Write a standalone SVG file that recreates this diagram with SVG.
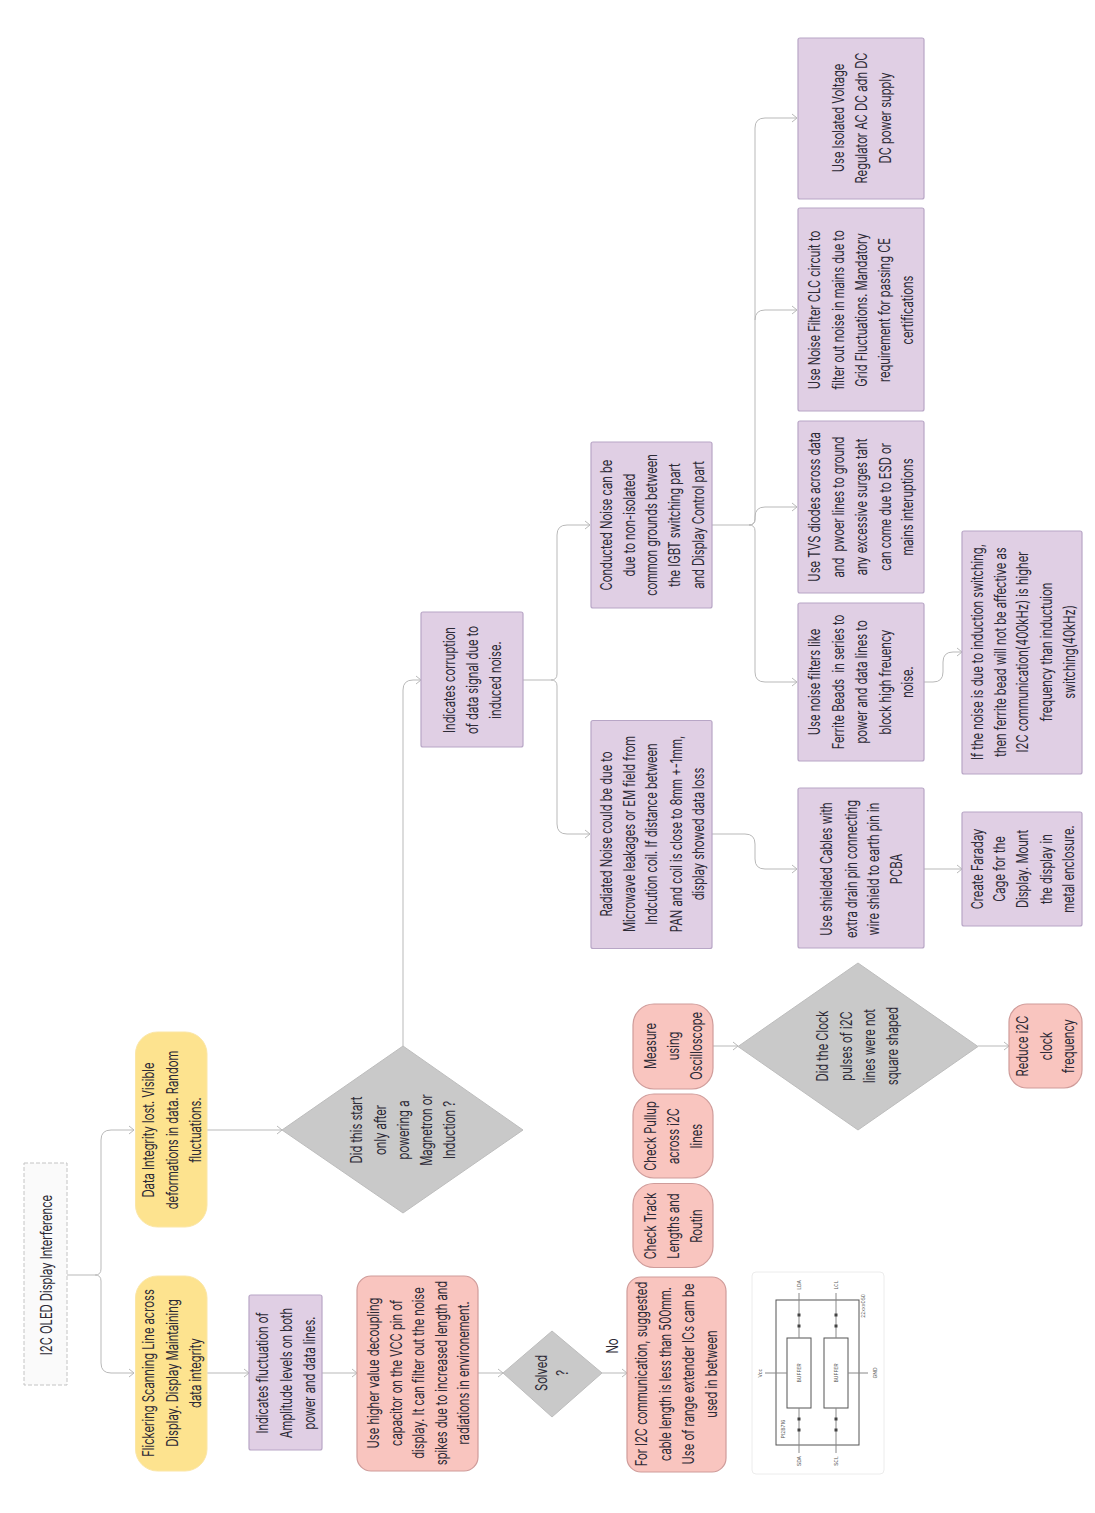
<svg xmlns="http://www.w3.org/2000/svg" width="1095" height="1513" viewBox="0 0 1095 1513">
<style>
text{font-family:"Inter","Liberation Sans",sans-serif;font-size:16px;fill:#2d2a36;text-anchor:middle;white-space:pre}
.s{font-size:5px;fill:#555}
.y{fill:#fde38f;stroke:#fbe6a6;stroke-width:1}
.p{fill:#e0cfe4;stroke:#b8a6c6;stroke-width:1.2}
.r{fill:#f9c5bf;stroke:#cf9c9a;stroke-width:1.2}
.g{fill:#c9c9c9;stroke:#bdbdbd;stroke-width:1}
.c path{fill:none;stroke:#b9b9b9;stroke-width:1}
.m{fill:none;stroke:#b9b9b9;stroke-width:1}
.i{fill:none;stroke:#555;stroke-width:1}
.l{fill:none;stroke:#888;stroke-width:1}
</style>
<defs>
<marker id="a" markerUnits="userSpaceOnUse" markerWidth="8" markerHeight="10" refX="7" refY="5" orient="auto"><path class="m" d="M2,1 L7,5 L2,9"/></marker>
</defs>
<rect width="1095" height="1513" fill="#fff"/>
<g class="c" id="connectors">
<path d="M67,1275H95Q101,1275 101,1269V1140Q101,1130 111,1130H134" marker-end="url(#a)"/>
<path d="M95,1275Q101,1275 101,1281V1363Q101,1373 111,1373H134" marker-end="url(#a)"/>
<path d="M207,1130H282" marker-end="url(#a)"/>
<path d="M207,1373H249" marker-end="url(#a)"/>
<path d="M322,1373H357" marker-end="url(#a)"/>
<path d="M478,1373H503" marker-end="url(#a)"/>
<path d="M602,1373H627" marker-end="url(#a)"/>
<path d="M403,1046V690Q403,680 413,680H421" marker-end="url(#a)"/>
<path d="M523,680H551Q557,680 557,674V535Q557,525 567,525H590" marker-end="url(#a)"/>
<path d="M551,680Q557,680 557,686V824Q557,834 567,834H590" marker-end="url(#a)"/>
<path d="M712,525H749Q755,525 755,519V128Q755,118 765,118H797" marker-end="url(#a)"/>
<path d="M755,320Q755,310 765,310H797" marker-end="url(#a)"/>
<path d="M749,525Q755,525 755,519V517Q755,507 765,507H797" marker-end="url(#a)"/>
<path d="M749,525Q755,525 755,531V672Q755,682 765,682H797" marker-end="url(#a)"/>
<path d="M712,834H745Q755,834 755,844V859Q755,869 765,869H797" marker-end="url(#a)"/>
<path d="M924,682H933Q943,682 943,672V662Q943,652 953,652H962" marker-end="url(#a)"/>
<path d="M924,869H962" marker-end="url(#a)"/>
<path d="M713,1046H738" marker-end="url(#a)"/>
<path d="M978,1046H1009" marker-end="url(#a)"/>
</g>
<g id="title"><rect x="24" y="1163" width="43" height="222" fill="#fafafa" stroke="#c4c4c4" stroke-width="1" stroke-dasharray="4 2"/>
<text transform="translate(0 1275) rotate(-90) scale(.7 1)"><tspan x="0" y="52">I2C OLED Display Interference</tspan></text></g>
<g id="n-data"><rect class="y" x="135.500" y="1032" width="71.500" height="195" rx="22"/>
<text transform="translate(0 1130) rotate(-90) scale(.7 1)"><tspan x="0" y="154">Data Integrity lost. Visible</tspan><tspan x="0" y="178">deformations in data. Random</tspan><tspan x="0" y="201">fluctuations.</tspan></text></g>
<g id="n-flicker"><rect class="y" x="135.500" y="1276" width="71.500" height="195" rx="22"/>
<text transform="translate(0 1373) rotate(-90) scale(.7 1)"><tspan x="0" y="154">Flickering Scanning Line across</tspan><tspan x="0" y="178">Display. Display Maintaining</tspan><tspan x="0" y="201">data integrity</tspan></text></g>
<g id="n-amp"><rect class="p" x="249" y="1295" width="73" height="155" rx="2"/>
<text transform="translate(0 1373) rotate(-90) scale(.7 1)"><tspan x="0" y="268">Indicates fluctuation of</tspan><tspan x="0" y="292">Amplitude levels on both</tspan><tspan x="0" y="315">power and data lines.</tspan></text></g>
<g id="n-cap"><rect class="r" x="357" y="1276" width="121" height="195" rx="14"/>
<text transform="translate(0 1373) rotate(-90) scale(.7 1)"><tspan x="0" y="379">Use higher value decoupling</tspan><tspan x="0" y="402">capacitor on the VCC pin of</tspan><tspan x="0" y="424">display. It can filter out the noise</tspan><tspan x="0" y="447">spikes due to increased length and</tspan><tspan x="0" y="469">radiations in environement.</tspan></text></g>
<g id="n-did"><path class="g" d="M282,1130L403,1046L523,1130L403,1213Z"/>
<text transform="translate(0 1130) rotate(-90) scale(.7 1)"><tspan x="0" y="362">Did this start</tspan><tspan x="0" y="386">only after</tspan><tspan x="0" y="409">powering a</tspan><tspan x="0" y="432">Magnetron or</tspan><tspan x="0" y="455">Induction ?</tspan></text></g>
<g id="n-solved"><path class="g" d="M503,1373L552,1331L602,1373L552,1417Z"/>
<text transform="translate(0 1373) rotate(-90) scale(.7 1)"><tspan x="0" y="547">Solved</tspan><tspan x="0" y="568">?</tspan></text></g>
<text id="l-no" transform="translate(0 1346) rotate(-90) scale(.7 1)"><tspan x="0" y="618">No</tspan></text>
<g id="n-i2c"><rect class="r" x="627" y="1277" width="99" height="195" rx="14"/>
<text transform="translate(0 1374) rotate(-90) scale(.7 1)"><tspan x="0" y="647">For I2C communication, suggested</tspan><tspan x="0" y="671">cable length is less than 500mm.</tspan><tspan x="0" y="694">Use of range extender ICs cam be</tspan><tspan x="0" y="717">used in between</tspan></text></g>
<g id="n-track"><rect class="r" x="633" y="1183.500" width="80" height="84" rx="21"/>
<text transform="translate(0 1226) rotate(-90) scale(.7 1)"><tspan x="0" y="656">Check Track</tspan><tspan x="0" y="679">Lengths and</tspan><tspan x="0" y="702">Routin</tspan></text></g>
<g id="n-pullup"><rect class="r" x="633" y="1094" width="80" height="84" rx="21"/>
<text transform="translate(0 1136) rotate(-90) scale(.7 1)"><tspan x="0" y="656">Check Pullup</tspan><tspan x="0" y="679">across i2C</tspan><tspan x="0" y="702">lines</tspan></text></g>
<g id="n-scope"><rect class="r" x="633" y="1004" width="80" height="85" rx="21"/>
<text transform="translate(0 1046) rotate(-90) scale(.7 1)"><tspan x="0" y="656">Measure</tspan><tspan x="0" y="679">using</tspan><tspan x="0" y="702">Oscilloscope</tspan></text></g>
<g id="n-clock"><path class="g" d="M738,1046.500L858,963L978,1046.500L858,1130Z"/>
<text transform="translate(0 1046) rotate(-90) scale(.7 1)"><tspan x="0" y="828">Did the Clock</tspan><tspan x="0" y="852">pulses of i2C</tspan><tspan x="0" y="875">lines were not</tspan><tspan x="0" y="898">square shaped</tspan></text></g>
<g id="n-reduce"><rect class="r" x="1009" y="1004" width="73" height="84" rx="18"/>
<text transform="translate(0 1046) rotate(-90) scale(.7 1)"><tspan x="0" y="1028">Reduce i2C</tspan><tspan x="0" y="1052">clock</tspan><tspan x="0" y="1074">frequency</tspan></text></g>
<g id="n-picture">
<rect x="752" y="1272" width="132" height="202" rx="4" fill="#fff" stroke="#ececec"/>
<rect class="i" x="776" y="1300" width="83" height="145"/>
<rect class="i" x="787" y="1338" width="24" height="70"/>
<rect class="i" x="824" y="1338" width="24" height="70"/>
<path class="l" d="M799,1293V1338M799,1408V1453M836,1293V1338M836,1408V1453M765,1373H787M848,1373H868"/>
<path fill="#444" d="M797.500,1313.500h3v3h-3zM797.500,1324.500h3v3h-3zM797.500,1417.500h3v3h-3zM797.500,1428.500h3v3h-3zM834.500,1313.500h3v3h-3zM834.500,1324.500h3v3h-3zM834.500,1417.500h3v3h-3zM834.500,1428.500h3v3h-3z"/>
<g class="s">
<text class="s" transform="translate(0 1373) rotate(-90)"><tspan x="0" y="801">BUFFER</tspan><tspan x="0" y="838">BUFFER</tspan></text>
<text class="s" transform="translate(0 1285) rotate(-90)"><tspan x="0" y="801">LDA</tspan><tspan x="0" y="838">LCL</tspan></text>
<text class="s" transform="translate(0 1461) rotate(-90)"><tspan x="0" y="801">SDA</tspan><tspan x="0" y="838">SCL</tspan></text>
<text class="s" transform="translate(0 1373) rotate(-90)"><tspan x="0" y="762">Vcc</tspan><tspan x="0" y="877">GND</tspan></text>
<text class="s" transform="translate(0 1429) rotate(-90)"><tspan x="0" y="785">PI2B716</tspan></text>
<text class="s" transform="translate(0 1306) rotate(-90)"><tspan x="0" y="865">22xxx050</tspan></text>
</g></g>
<g id="n-corrupt"><rect class="p" x="421" y="612" width="102" height="135" rx="2"/>
<text transform="translate(0 680) rotate(-90) scale(.7 1)"><tspan x="0" y="455">Indicates corruption</tspan><tspan x="0" y="478">of data signal due to</tspan><tspan x="0" y="501">induced noise.</tspan></text></g>
<g id="n-conducted"><rect class="p" x="591" y="442" width="121" height="166" rx="2"/>
<text transform="translate(0 525) rotate(-90) scale(.7 1)"><tspan x="0" y="612">Conducted Noise can be</tspan><tspan x="0" y="635">due to non-isolated</tspan><tspan x="0" y="657">common grounds between</tspan><tspan x="0" y="680">the IGBT switching part</tspan><tspan x="0" y="704">and Display Control part</tspan></text></g>
<g id="n-radiated"><rect class="p" x="591" y="720.500" width="121" height="228" rx="2"/>
<text transform="translate(0 834) rotate(-90) scale(.7 1)"><tspan x="0" y="612">Radiated Noise could be due to</tspan><tspan x="0" y="635">Microwave leakages or EM field from</tspan><tspan x="0" y="657">Indcution coil. If distance between</tspan><tspan x="0" y="682">PAN and coil is close to 8mm +-1mm,</tspan><tspan x="0" y="704">display showed data loss</tspan></text></g>
<g id="n-iso"><rect class="p" x="798" y="38" width="126" height="161" rx="2"/>
<text transform="translate(0 118) rotate(-90) scale(.7 1)"><tspan x="0" y="844">Use Isolated Voltage</tspan><tspan x="0" y="867">Regulator AC DC adn DC</tspan><tspan x="0" y="891">DC power supply</tspan></text></g>
<g id="n-clc"><rect class="p" x="798" y="208" width="126" height="203" rx="2"/>
<text transform="translate(0 310) rotate(-90) scale(.7 1)"><tspan x="0" y="820">Use Noise Filter CLC circuit to</tspan><tspan x="0" y="844">filter out noise in mains due to</tspan><tspan x="0" y="867">Grid Fluctuations. Mandatory</tspan><tspan x="0" y="890">requirement for passing CE</tspan><tspan x="0" y="913">certifications</tspan></text></g>
<g id="n-tvs"><rect class="p" x="798" y="421" width="126" height="172" rx="2"/>
<text transform="translate(0 507) rotate(-90) scale(.7 1)"><tspan x="0" y="820">Use TVS diodes across data</tspan><tspan x="0" y="844">and  pwoer lines to ground</tspan><tspan x="0" y="867">any excessive surges taht</tspan><tspan x="0" y="891">can come due to ESD or</tspan><tspan x="0" y="913">mains interuptions</tspan></text></g>
<g id="n-ferrite"><rect class="p" x="798" y="603" width="126" height="158" rx="2"/>
<text transform="translate(0 682) rotate(-90) scale(.7 1)"><tspan x="0" y="820">Use noise filters like</tspan><tspan x="0" y="844">Ferrite Beads  in series to</tspan><tspan x="0" y="867">power and data lines to</tspan><tspan x="0" y="891">block high freuency</tspan><tspan x="0" y="913">noise.</tspan></text></g>
<g id="n-shield"><rect class="p" x="798" y="788" width="126" height="160" rx="2"/>
<text transform="translate(0 869) rotate(-90) scale(.7 1)"><tspan x="0" y="832">Use shielded Cables with</tspan><tspan x="0" y="857">extra drain pin connecting</tspan><tspan x="0" y="879">wire shield to earth pin in</tspan><tspan x="0" y="902">PCBA</tspan></text></g>
<g id="n-bead"><rect class="p" x="962" y="531" width="120" height="243" rx="2"/>
<text transform="translate(0 652) rotate(-90) scale(.7 1)"><tspan x="0" y="983">If the noise is due to induction switching,</tspan><tspan x="0" y="1006">then ferrite bead will not be affective as</tspan><tspan x="0" y="1028">I2C communication(400kHz) is higher</tspan><tspan x="0" y="1052">frequency than inductuion</tspan><tspan x="0" y="1075">switching(40kHz)</tspan></text></g>
<g id="n-faraday"><rect class="p" x="962" y="812" width="120" height="114" rx="2"/>
<text transform="translate(0 869) rotate(-90) scale(.7 1)"><tspan x="0" y="983">Create Faraday</tspan><tspan x="0" y="1005">Cage for the</tspan><tspan x="0" y="1028">Display. Mount</tspan><tspan x="0" y="1052">the display in</tspan><tspan x="0" y="1074">metal enclosure.</tspan></text></g>
</svg>
